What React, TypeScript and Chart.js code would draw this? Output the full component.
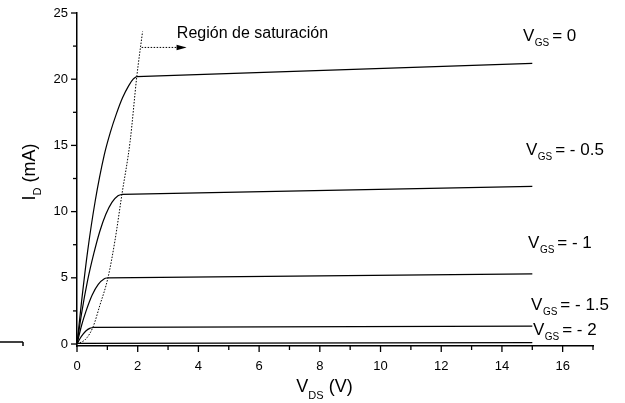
import React, { useEffect, useRef } from "react";
import { Chart, registerables } from "chart.js";

Chart.register(...registerables);

// ---- axis ticks ----
const xTicks = [0, 2, 4, 6, 8, 10, 12, 14, 16];
const xMinorTicks = [1, 3, 5, 7, 9, 11, 13, 15, 17];
const yTicks = [0, 5, 10, 15, 20, 25];
const yMinorTicks = [2.5, 7.5, 12.5, 17.5, 22.5];

// ---- curve labels ----
const vgsLabels = ["0", "- 0.5", "- 1", "- 1.5", "- 2"];
const regionLabel = "Región de saturación";

// ---- series (V_DS in V, I_D in mA); last point = end of the flat saturation segment ----
const vds0 = [0, 0.15, 0.35, 0.6, 0.9, 1.1, 1.3, 1.5, 1.7, 1.85, 1.97, 15];
const id0 = [0, 3.2, 7.0, 10.8, 14.3, 16.0, 17.4, 18.6, 19.5, 20.0, 20.2, 21.2];

const vds05 = [0, 0.15, 0.35, 0.55, 0.75, 0.95, 1.15, 1.35, 1.48, 15];
const id05 = [0, 2.3, 4.8, 6.8, 8.5, 9.8, 10.7, 11.2, 11.3, 11.9];

const vds1 = [0, 0.15, 0.3, 0.5, 0.7, 0.9, 1.02, 15];
const id1 = [0, 1.4, 2.5, 3.7, 4.5, 4.93, 5.0, 5.3];

const vds15 = [0, 0.1, 0.2, 0.3, 0.42, 0.53, 15];
const id15 = [0, 0.42, 0.75, 1.0, 1.18, 1.25, 1.35];

const vds2 = [0, 15];
const id2 = [0.05, 0.1];

// saturation boundary (dotted)
const satV = [0, 0.3, 0.53, 0.75, 1.02, 1.25, 1.48, 1.75, 1.97, 2.16];
const satI = [0, 0.4, 1.3, 2.9, 5.0, 7.8, 11.3, 15.3, 20.2, 23.6];

// arrow pointing at the region label
const arrowV = [2.13, 3.61];
const arrowI = [22.4, 22.4];

const FONT = "'Liberation Sans', Arial, Helvetica, sans-serif";

const zip = (xs: number[], ys: number[]) => xs.map((v, i) => ({ x: v, y: ys[i] }));

type Part = [string, number, number, number]; // text, size, dy, gapBefore

function drawParts(ctx: CanvasRenderingContext2D, x: number, y: number, parts: Part[]) {
  let cx = x;
  for (const [t, size, dy, gap] of parts) {
    cx += gap;
    ctx.font = `${size}px ${FONT}`;
    ctx.fillText(t, cx, y + dy);
    cx += ctx.measureText(t).width;
  }
}

function partsWidth(ctx: CanvasRenderingContext2D, parts: Part[]) {
  let w = 0;
  for (const [t, size, , gap] of parts) {
    ctx.font = `${size}px ${FONT}`;
    w += gap + ctx.measureText(t).width;
  }
  return w;
}

const decorPlugin = {
  id: "decor",
  afterDraw(chart: any) {
    const { ctx, chartArea, scales } = chart;
    const xs = scales.x;
    const ys = scales.y;
    ctx.save();
    ctx.strokeStyle = "#000";
    ctx.fillStyle = "#000";
    ctx.lineWidth = 1.3;

    const line = (x1: number, y1: number, x2: number, y2: number) => {
      ctx.beginPath();
      ctx.moveTo(x1, y1);
      ctx.lineTo(x2, y2);
      ctx.stroke();
    };

    // tick marks
    const bottom = chartArea.bottom;
    const left = chartArea.left;
    xTicks.forEach((v) => {
      const p = xs.getPixelForValue(v);
      line(p, bottom, p, bottom + 6);
    });
    xMinorTicks.forEach((v) => {
      const p = xs.getPixelForValue(v);
      line(p, bottom, p, bottom + 4);
    });
    yTicks.forEach((v) => {
      const p = ys.getPixelForValue(v);
      line(left, p, left - 6, p);
    });
    yMinorTicks.forEach((v) => {
      const p = ys.getPixelForValue(v);
      line(left, p, left - 4, p);
    });

    // stray fragment at the left edge of the original
    ctx.lineWidth = 1.5;
    line(0, 342, 23, 342);
    line(23, 342, 23, 346);

    // arrowhead
    const tx = xs.getPixelForValue(arrowV[1]);
    const ty = ys.getPixelForValue(arrowI[1]);
    ctx.beginPath();
    ctx.moveTo(tx, ty);
    ctx.lineTo(tx - 10, ty - 2.8);
    ctx.lineTo(tx - 10, ty + 2.8);
    ctx.closePath();
    ctx.fill();

    ctx.textBaseline = "alphabetic";
    ctx.textAlign = "left";

    // region label
    ctx.font = `16px ${FONT}`;
    ctx.fillText(regionLabel, xs.getPixelForValue(3.29), ys.getPixelForValue(23.1));

    // V_GS labels
    const labelAnchors = [
      [14.69, 22.9],
      [14.79, 14.27],
      [14.86, 7.25],
      [14.96, 2.57],
      [15.02, 0.68],
    ];
    vgsLabels.forEach((lab, i) => {
      const [av, ai] = labelAnchors[i];
      drawParts(ctx, xs.getPixelForValue(av), ys.getPixelForValue(ai), [
        ["V", 17, 0, 0],
        ["GS", 10, 5, 0.5],
        ["= " + lab, 17, 0, 3],
      ]);
    });

    // x title
    const xt: Part[] = [
      ["V", 18, 0, 0],
      ["DS", 11, 7, 0],
      [" (V)", 18, 0, 0],
    ];
    const wx = partsWidth(ctx, xt);
    drawParts(ctx, 324.5 - wx / 2, 392, xt);

    // y title (rotated)
    const yt: Part[] = [
      ["I", 18, 0, 0],
      ["D", 11, 6, 0],
      [" (mA)", 18, 0, 0],
    ];
    const wy = partsWidth(ctx, yt);
    ctx.save();
    ctx.translate(35, 172);
    ctx.rotate(-Math.PI / 2);
    drawParts(ctx, -wy / 2, 0, yt);
    ctx.restore();

    ctx.restore();
  },
};

export default function App() {
  const ref = useRef<HTMLCanvasElement | null>(null);

  useEffect(() => {
    if (!ref.current) return;
    const curve = (vx: number[], iy: number[]) => {
      const pts = zip(vx, iy);
      return [
        {
          data: pts.slice(0, pts.length - 1),
          borderColor: "#000",
          borderWidth: 1.2,
          pointRadius: 0,
          fill: false,
          cubicInterpolationMode: "monotone" as const,
        },
        {
          data: pts.slice(pts.length - 2),
          borderColor: "#000",
          borderWidth: 1.2,
          pointRadius: 0,
          fill: false,
          tension: 0,
        },
      ];
    };
    const chart = new Chart(ref.current, {
      type: "line",
      data: {
        datasets: [
          ...curve(vds0, id0),
          ...curve(vds05, id05),
          ...curve(vds1, id1),
          ...curve(vds15, id15),
          {
            data: zip(vds2, id2),
            borderColor: "#000",
            borderWidth: 1.2,
            pointRadius: 0,
            fill: false,
            tension: 0,
          },
          {
            data: zip(satV, satI),
            borderColor: "#000",
            borderWidth: 1,
            borderDash: [1.5, 1.5],
            pointRadius: 0,
            fill: false,
            cubicInterpolationMode: "monotone" as const,
          },
          {
            data: zip(arrowV, arrowI),
            borderColor: "#000",
            borderWidth: 1,
            borderDash: [1.5, 1.5],
            pointRadius: 0,
            fill: false,
          },
        ],
      },
      options: {
        animation: false,
        responsive: false,
        devicePixelRatio: 1,
        layout: { padding: { left: 0, right: 32, top: 13, bottom: 0 } },
        plugins: {
          legend: { display: false },
          tooltip: { enabled: false },
        },
        scales: {
          x: {
            type: "linear",
            min: 0,
            max: 17,
            afterBuildTicks: (s: any) => {
              s.ticks = xTicks.map((v) => ({ value: v }));
            },
            afterFit: (s: any) => {
              s.height = 57;
              s.paddingLeft = 0;
              s.paddingRight = 0;
            },
            grid: { display: false, drawTicks: false },
            border: { display: true, color: "#000", width: 1.5 },
            ticks: {
              color: "#000",
              padding: 13,
              maxRotation: 0,
              font: { family: FONT, size: 13 },
            },
          },
          y: {
            type: "linear",
            min: -0.15,
            max: 25,
            afterBuildTicks: (s: any) => {
              s.ticks = yTicks.map((v) => ({ value: v }));
            },
            afterFit: (s: any) => {
              s.width = 77;
              s.paddingTop = 0;
              s.paddingBottom = 0;
            },
            grid: { display: false, drawTicks: false },
            border: { display: true, color: "#000", width: 1.5 },
            ticks: {
              color: "#000",
              padding: 9,
              font: { family: FONT, size: 13 },
            },
          },
        },
      },
      plugins: [decorPlugin],
    });
    return () => chart.destroy();
  }, []);

  return (
    <div style={{ position: "fixed", left: 0, top: 0, width: 625, height: 403, background: "#fff" }}>
      <canvas ref={ref} width={625} height={403} style={{ width: 625, height: 403, display: "block" }} />
    </div>
  );
}
